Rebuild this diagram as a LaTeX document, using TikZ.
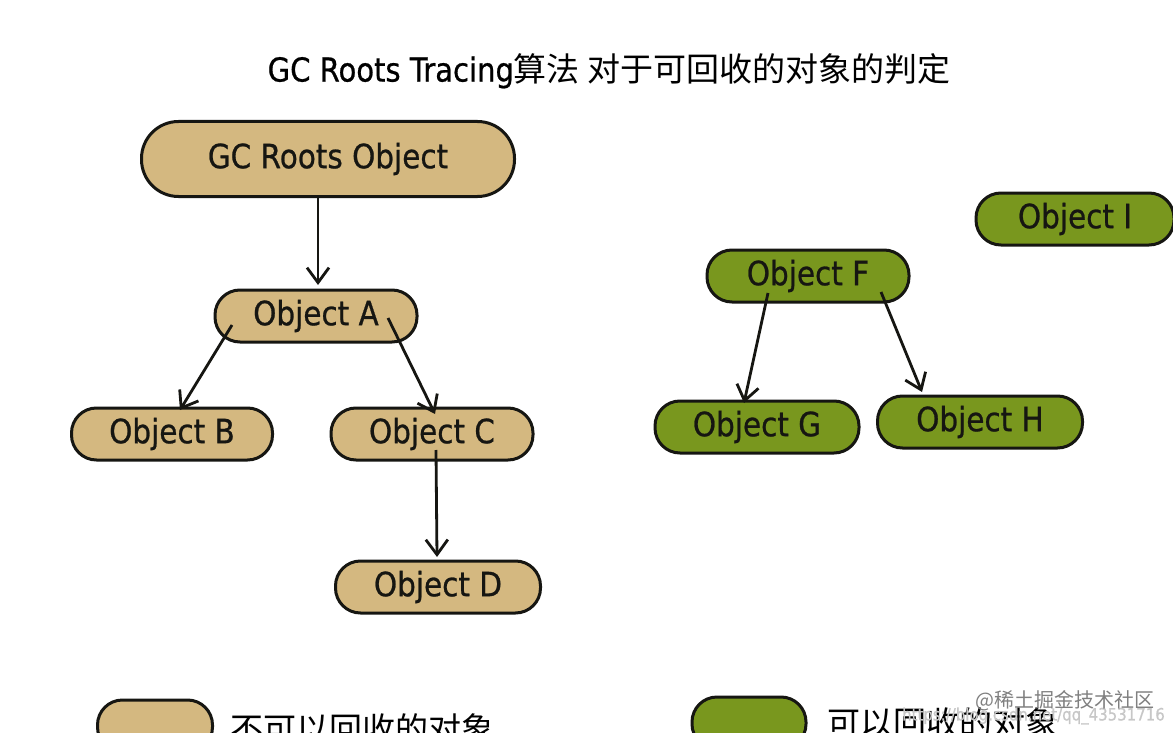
\documentclass[tikz,border=0pt]{standalone}
\usepackage{fontspec}
\setmainfont{DejaVu Sans}[FakeStretch=0.88,FakeBold=0.7]
\newfontfamily\cjk{Noto Sans CJK SC}
\usetikzlibrary{arrows.meta,calc}
\definecolor{tan}{RGB}{212,184,128}
\definecolor{grn}{RGB}{121,151,30}
\definecolor{edge}{RGB}{22,22,18}
\tikzset{
  obj/.style={draw=edge, line width=3pt, rounded corners=25pt, minimum width=202pt, minimum height=52pt, inner sep=0pt, font=\fontsize{33.5}{36}\selectfont, text=edge},
  keep/.style={obj, fill=tan},
  free/.style={obj, fill=grn},
  link/.style={draw=edge, line width=2.8pt, -{Straight Barb[length=15pt,width=22pt,line width=2.8pt]}},
  cn/.style={font=\cjk\fontsize{33}{36}\selectfont, text=black, inner sep=0pt}
}
\begin{document}
\begin{tikzpicture}[x=1pt,y=-1pt]
\useasboundingbox (0,0) rectangle (1173,733);
\clip (0,0) rectangle (1173,733);
\fill[white] (0,0) rectangle (1173,733);
% title
\node[font=\fontsize{33}{36}\selectfont, inner sep=0pt] (title) at (609,71) {GC Roots Tracing{\cjk 算法 对于可回收的对象的判定}};
% reachable objects
\node[keep, minimum width=373pt, minimum height=75pt, rounded corners=37pt] (roots) at (328,159) {GC Roots Object};
\node[keep] (A) at (316,316) {Object A};
\node[keep, minimum width=201pt] (B) at (172,434) {Object B};
\node[keep] (C) at (432,434) {Object C};
\node[keep, minimum width=205pt] (D) at (438,587) {Object D};
% collectable objects
\node[free] (F) at (808,276) {Object F};
\node[free, minimum width=204pt] (G) at (757,427) {Object G};
\node[free, minimum width=205pt] (H) at (980,422) {Object H};
\node[free, minimum width=198pt] (I) at (1075,219) {Object I};
% connectors
\draw[link] ($(roots.center)+(-10,36)$) -- ($(A.center)+(2,-31)$);
\draw[link] ($(A.center)+(-84,9)$) -- ($(B.center)+(8,-24)$);
\draw[link] ($(A.center)+(72,2)$) -- ($(C.center)+(3,-20)$);
\draw[link] ($(C.center)+(4,16)$) -- ($(D.center)+(-1,-30)$);
\draw[link] ($(F.center)+(-40,17)$) -- ($(G.center)+(-13,-24)$);
\draw[link] ($(F.center)+(73,16)$) -- ($(H.center)+(-58,-30)$);
% legend
\node[keep, minimum width=115pt] (k1) at (155,726) {};
\node[cn, anchor=west] (k1t) at (230,729) {不可以回收的对象};
\node[free, minimum width=114pt] (k2) at (749,723) {};
\node[cn, anchor=west] (k2t) at (827,723) {可以回收的对象};
% watermark
\node[font=\fontsize{17}{19}\selectfont, text=black!22, anchor=east, inner sep=0pt] (wm2) at (1165,716) {https://blog.csdn.net/qq\_43531716};
\node[font=\cjk\fontsize{20}{22}\selectfont, text=black!50, anchor=east, inner sep=0pt] (wm) at (1155,701) {@稀土掘金技术社区};
\end{tikzpicture}
\end{document}
